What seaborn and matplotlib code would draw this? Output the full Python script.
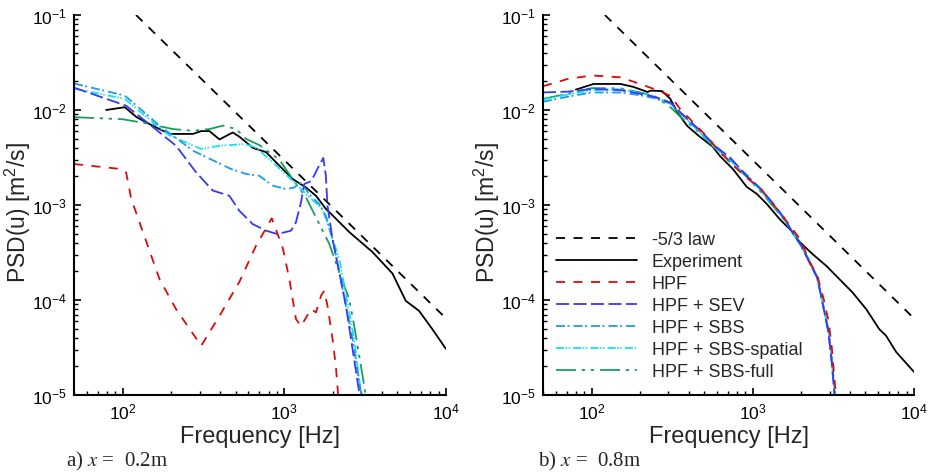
import matplotlib
matplotlib.use("Agg")
import matplotlib.pyplot as plt
import seaborn as sns
from matplotlib.ticker import LogLocator, NullFormatter, LogFormatterSciNotation

# ---------------- data ----------------
law_f = [121, 10000]
law_psd = [0.1, 6.4e-5]

# panel a) x = 0.2 m
a_exp_f = [79, 103, 122, 154, 195, 272, 306, 344, 397, 480, 530, 637, 771, 931, 1125,
           1361, 1570, 1807, 2000, 2518, 3508, 4667, 5636, 6808, 8222, 10000]
a_exp_psd = [0.0100, 0.0107, 0.0084, 0.0068, 0.0056, 0.0056, 0.0060, 0.0060, 0.0049, 0.0058,
             0.0052, 0.0040, 0.0036, 0.0026, 0.00188, 0.00153, 0.00125, 0.00091, 0.00077,
             0.00052, 0.00032, 0.00019, 0.000098, 0.000077, 0.0000495, 0.0000305]

a_hpf_f = [50, 98, 105, 113, 169, 214, 306, 397, 527, 668, 836, 977, 1074, 1180, 1268,
           1462, 1570, 1687, 1766, 1849, 1986, 2084, 2163]
a_hpf_psd = [0.0027, 0.00239, 0.00221, 0.00116, 0.000166, 0.000080, 0.000033, 0.000068,
             0.000155, 0.000372, 0.000724, 0.000355, 0.000166, 0.000063, 0.000053, 0.000080,
             0.000074, 0.000111, 0.000125, 0.000087, 0.000039, 0.000020, 0.0000089]

a_sev_f = [50, 105, 154, 214, 285, 361, 457, 527, 637, 771, 906, 1099, 1180, 1268, 1327,
           1469, 1600, 1742, 1807, 1849, 1986, 2188, 2404, 2642, 2904, 3020]
a_sev_psd = [0.0172, 0.0111, 0.0066, 0.0042, 0.0022, 0.00142, 0.00125, 0.00087, 0.00063,
             0.000536, 0.000495, 0.000536, 0.000658, 0.00107, 0.00166, 0.00179, 0.00239,
             0.00313, 0.00203, 0.00098, 0.00044, 0.000195, 0.000087, 0.0000305, 0.0000107,
             0.000007]

a_sbs_f = [50, 103, 122, 169, 272, 469, 581, 701, 847, 1023, 1153, 1268, 1426, 1644, 1807,
           1986, 2291, 2642, 2972, 3090]
a_sbs_psd = [0.0190, 0.0142, 0.0111, 0.00684, 0.00373, 0.00239, 0.00212, 0.00203, 0.0016,
             0.00147, 0.00153, 0.00173, 0.0013, 0.00102, 0.00077, 0.00044, 0.000131,
             0.0000389, 0.0000107, 0.000007]

a_spa_f = [50, 103, 154, 195, 306, 397, 566, 662, 807, 1125, 1426, 1722, 1986, 2188, 2704,
           2972, 3090]
a_spa_psd = [0.0168, 0.0131, 0.0074, 0.0054, 0.00389, 0.0042, 0.00438, 0.00405, 0.00305,
             0.0018, 0.00121, 0.00091, 0.00044, 0.00027, 0.0000389, 0.0000107, 0.000007]

a_full_f = [50, 100, 147, 204, 272, 344, 416, 504, 581, 701, 931, 1125, 1361, 1570, 1897,
            2188, 2518, 2704, 3119, 3236]
a_full_psd = [0.0084, 0.0080, 0.00713, 0.0063, 0.00605, 0.0063, 0.00684, 0.0063, 0.00495,
              0.00427, 0.0030, 0.00188, 0.0012, 0.00074, 0.00039, 0.000195, 0.000102,
              0.0000537, 0.0000126, 0.0000079]

# panel b) x = 0.8 m
b_exp_f = [80, 103, 151, 182, 222, 234, 274, 308, 340, 392, 471, 566, 625, 753, 918, 1059,
           1219, 1469, 1766, 1950, 2344, 2864, 3443, 4140, 5058, 6081, 6714, 7745, 10000]
b_exp_psd = [0.0164, 0.0188, 0.0188, 0.0175, 0.0155, 0.0160, 0.0158, 0.0131, 0.0095, 0.0068,
             0.0052, 0.0041, 0.00328, 0.00239, 0.00155, 0.00131, 0.00103, 0.00071, 0.00052,
             0.00041, 0.000305, 0.000228, 0.000166, 0.000121, 0.000080, 0.0000495, 0.000042,
             0.0000284, 0.0000175]

b_sim_f = [50, 71, 100, 151, 200, 245, 309, 355, 427, 501, 603, 724, 912, 1122, 1349, 1585,
           1778, 1995, 2239, 2512, 2754, 2951, 3090, 3236, 3400]
b_hpf_psd = [0.0178, 0.0212, 0.0231, 0.0221, 0.0188, 0.0166, 0.0141, 0.0102, 0.0074, 0.0056,
             0.0039, 0.0028, 0.00195, 0.00148, 0.00100, 0.00071, 0.00055, 0.00042, 0.000257,
             0.000182, 0.000102, 0.000060, 0.000032, 0.0000126, 0.0000070]
b_sev_psd = [0.0153, 0.0156, 0.0166, 0.0162, 0.0148, 0.0138, 0.0120, 0.0095, 0.0071, 0.0055,
             0.0040, 0.00316, 0.00204, 0.00148, 0.00102, 0.00071, 0.00050, 0.00038, 0.000251,
             0.000174, 0.000081, 0.000045, 0.000022, 0.0000089, 0.000003]
b_sbs_psd = [0.0122, 0.0138, 0.0153, 0.0153, 0.0143, 0.0133, 0.0117, 0.0093, 0.0069, 0.0054,
             0.0039, 0.0030, 0.0021, 0.00145, 0.00100, 0.00069, 0.00051, 0.00038, 0.000263,
             0.000174, 0.000081, 0.000045, 0.000022, 0.0000089, 0.000003]
b_spa_psd = [0.0129, 0.0145, 0.0162, 0.0166, 0.0151, 0.0138, 0.0117, 0.0093, 0.0068, 0.0052,
             0.0038, 0.00295, 0.00204, 0.00141, 0.00098, 0.00068, 0.00050, 0.00037, 0.000251,
             0.000166, 0.000083, 0.000047, 0.000024, 0.0000095, 0.000003]
b_full_psd = [0.0131, 0.0148, 0.0170, 0.0169, 0.0153, 0.0141, 0.0107, 0.0085, 0.0066, 0.0051,
              0.0038, 0.0028, 0.0020, 0.00138, 0.00095, 0.00068, 0.00050, 0.00037, 0.000251,
              0.000170, 0.000085, 0.000048, 0.000025, 0.0000100, 0.000003]

labels = ["-5/3 law", "Experiment", "HPF", "HPF + SEV", "HPF + SBS",
          "HPF + SBS-spatial", "HPF + SBS-full"]
captions = ["a) $x$ =  0.2m", "b) $x$ =  0.8m"]

# ---------------- style ----------------
sns.set_theme(style="ticks")
plt.rcParams["font.family"] = ["Liberation Sans", "DejaVu Sans"]
plt.rcParams["mathtext.fontset"] = "custom"
plt.rcParams["mathtext.rm"] = "Liberation Sans"
plt.rcParams["mathtext.it"] = "Liberation Sans:italic"
plt.rcParams["lines.scale_dashes"] = False

styles = {
    "-5/3 law": dict(color="black", ls=(0, (6.5, 6.1))),
    "Experiment": dict(color="black", ls="-"),
    "HPF": dict(color="#dc0a0a", ls=(0, (6.5, 6.1))),
    "HPF + SEV": dict(color="#3838f5", ls=(0, (9.4, 3.2))),
    "HPF + SBS": dict(color="#1e9be8", ls=(0, (6.5, 1.8, 1.4, 2.9))),
    "HPF + SBS-spatial": dict(color="#14e0f5", ls=(0, (5.8, 1.1, 1.1, 1.1, 1.1, 2.2))),
    "HPF + SBS-full": dict(color="#1a9e5c", ls=(0, (14.4, 4.1, 2.4, 4.1, 2.4, 4.3))),
}

fig = plt.figure(figsize=(9.3, 4.77), dpi=100)
ax_a = fig.add_axes([74 / 930, 1 - 396 / 477, 372 / 930, 380 / 477])
ax_b = fig.add_axes([543 / 930, 1 - 396 / 477, 371 / 930, 380 / 477])

series_a = [(law_f, law_psd), (a_exp_f, a_exp_psd), (a_hpf_f, a_hpf_psd),
            (a_sev_f, a_sev_psd), (a_sbs_f, a_sbs_psd), (a_spa_f, a_spa_psd),
            (a_full_f, a_full_psd)]
series_b = [(law_f, law_psd), (b_exp_f, b_exp_psd), (b_sim_f, b_hpf_psd),
            (b_sim_f, b_sev_psd), (b_sim_f, b_sbs_psd), (b_sim_f, b_spa_psd),
            (b_sim_f, b_full_psd)]

order = [0, 1, 6, 5, 4, 3, 2]  # drawing order (red on top)

for ax, series, lab_x in ((ax_a, series_a, -56 / 372), (ax_b, series_b, -56 / 371)):
    ax.set_xscale("log")
    ax.set_yscale("log")
    for i in order:
        f, p = series[i]
        st = styles[labels[i]]
        sns.lineplot(x=f, y=p, ax=ax, color=st["color"], linestyle=st["ls"], lw=1.3,
                     sort=False, estimator=None, label=labels[i], legend=False)
    ax.set_xlim(50, 1e4)
    ax.set_ylim(1e-5, 1e-1)
    ax.xaxis.set_major_locator(LogLocator(base=10, numticks=10))
    ax.xaxis.set_minor_locator(LogLocator(base=10, subs=range(2, 10), numticks=10))
    ax.yaxis.set_major_locator(LogLocator(base=10, numticks=10))
    ax.yaxis.set_minor_locator(LogLocator(base=10, subs=range(2, 10), numticks=10))
    ax.xaxis.set_minor_formatter(NullFormatter())
    ax.yaxis.set_minor_formatter(NullFormatter())
    ax.xaxis.set_major_formatter(LogFormatterSciNotation())
    ax.yaxis.set_major_formatter(LogFormatterSciNotation())
    for s in ("top", "right"):
        ax.spines[s].set_visible(False)
    for s in ("left", "bottom"):
        ax.spines[s].set_linewidth(1.5)
        ax.spines[s].set_color("black")
    ax.tick_params(which="major", direction="in", length=5, width=1.2, labelsize=12.5,
                   colors="black", pad=5)
    ax.tick_params(which="minor", direction="in", length=2.6, width=1.0, colors="black")
    ax.tick_params(top=False, right=False)
    ax.set_xlabel("Frequency [Hz]", fontsize=17, va="center")
    ax.xaxis.set_label_coords(0.5, -0.108)
    ax.set_ylabel("PSD(u) [m$^2$/s]", fontsize=16.5, va="center")
    ax.yaxis.set_label_coords(lab_x, 0.484)
    ax.set_facecolor("white")
    leg = ax.get_legend()
    if leg is not None:
        leg.remove()

# legend in panel b
handles, labs = ax_b.get_legend_handles_labels()
hmap = dict(zip(labs, handles))
ax_b.legend([hmap[l] for l in labels], labels, loc="upper left",
            bbox_to_anchor=(0.035, 0.432), frameon=False, fontsize=13,
            handlelength=4.5, handletextpad=0.8, labelspacing=0.28,
            borderpad=0, borderaxespad=0)

# captions
for xpix, cap in ((66, captions[0]), (538, captions[1])):
    fig.text(xpix / 930, 1 - 461 / 477, cap, fontsize=15, va="center", ha="left",
             family=["Liberation Serif", "DejaVu Serif"], math_fontfamily="stix")

fig.savefig("out.png", dpi=100, facecolor="white")
